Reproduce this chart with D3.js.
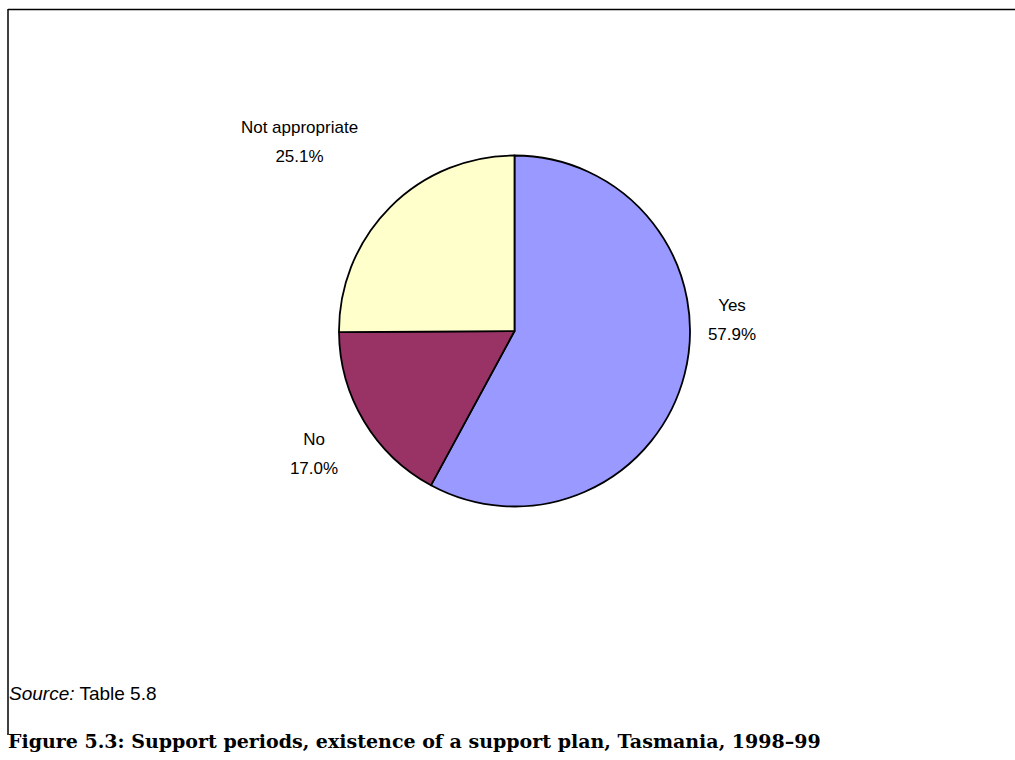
<!DOCTYPE html>
<html>
<head>
<meta charset="utf-8">
<script src="https://cdn.jsdelivr.net/npm/d3@7"></script>
<style>
  html, body { margin: 0; padding: 0; background: #fff; }
  svg { display: block; }
</style>
</head>
<body>
<svg id="chart" width="1015" height="760"></svg>
<script>
const categories = ["Yes", "No", "Not appropriate"];
const values = [57.9, 17.0, 25.1];
const colors = ["#9999FF", "#993366", "#FFFFCC"];
const sourceText = "Table 5.8";
const titleText = "Figure 5.3: Support periods, existence of a support plan, Tasmania, 1998\u201399";

const svg = d3.select("#chart");

// frame (top and left borders visible)
svg.append("line").attr("x1", 8).attr("y1", 9.5).attr("x2", 1015).attr("y2", 9.5)
  .attr("stroke", "#000").attr("stroke-width", 1.5);
svg.append("line").attr("x1", 8).attr("y1", 9).attr("x2", 8).attr("y2", 735)
  .attr("stroke", "#000").attr("stroke-width", 1.5);

const cx = 514.5, cy = 331, r = 175.5;
const data = categories.map((c, i) => ({ cat: c, value: values[i], color: colors[i] }));

const pie = d3.pie().value(d => d.value).sort(null);
const arcs = pie(data);
const arc = d3.arc().innerRadius(0).outerRadius(r);

const g = svg.append("g").attr("transform", `translate(${cx},${cy})`);
g.selectAll("path").data(arcs).enter().append("path")
  .attr("d", arc)
  .attr("fill", d => d.data.color)
  .attr("stroke", "#000")
  .attr("stroke-width", 1.8)
  .attr("stroke-linejoin", "round");

const fmt = d3.format(".1f");
const lbl = svg.append("g").attr("transform", `translate(${cx},${cy})`)
  .attr("font-family", "Liberation Sans, Arial, sans-serif")
  .attr("font-size", 17)
  .attr("fill", "#000");

const labelOffsets = {
  "Yes": [217.5, -20],
  "No": [-200.5, 114],
  "Not appropriate": [-215, -198]
};
arcs.forEach(a => {
  const off = labelOffsets[a.data.cat];
  const t = lbl.append("text").attr("text-anchor", "middle")
    .attr("transform", `translate(${off[0]},${off[1]})`);
  t.append("tspan").attr("x", 0).attr("y", 0).text(a.data.cat);
  t.append("tspan").attr("x", 0).attr("y", 29).text(fmt(a.data.value) + "%");
});

// source note
const src = svg.append("text").attr("x", 9).attr("y", 700)
  .attr("font-family", "Liberation Sans, Arial, sans-serif")
  .attr("font-size", 19).attr("fill", "#000");
src.append("tspan").attr("font-style", "italic").text("Source:");
src.append("tspan").text(" " + sourceText);

// figure title
const title = svg.append("text").attr("x", 8).attr("y", 748)
  .attr("font-family", "DejaVu Serif, Liberation Serif, serif")
  .attr("font-weight", "bold")
  .attr("font-size", 18).attr("fill", "#000")
  .text(titleText);
const tw = title.node().getComputedTextLength();
title.attr("font-size", Math.min(19, 18 * 822 / tw));
</script>
</body>
</html>
